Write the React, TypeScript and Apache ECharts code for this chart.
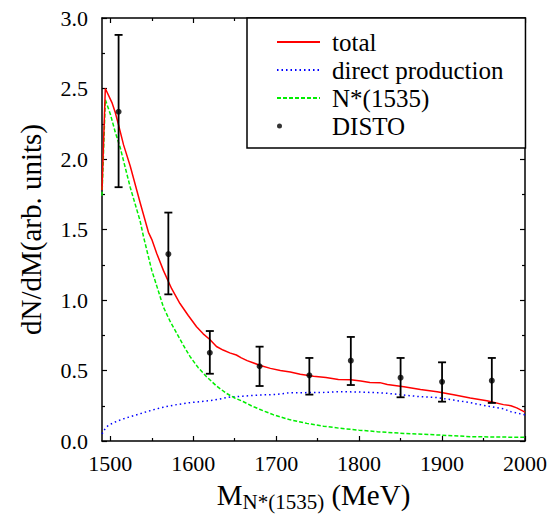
import React, { useEffect, useRef } from "react";
import * as echarts from "echarts";

// ---- data ----
const TOTAL_X = [1490, 1494, 1502, 1506, 1510, 1516, 1524, 1536, 1546, 1550, 1556, 1564, 1574, 1584, 1594, 1604, 1612, 1620, 1628, 1636, 1644, 1652, 1658, 1665, 1672, 1681, 1693, 1705, 1717, 1729, 1745, 1760, 1775, 1790, 1802, 1813, 1825, 1834, 1854, 1874, 1894, 1914, 1934, 1954, 1974, 1983, 1990, 2000];
const TOTAL_Y = [1.78, 2.5, 2.4, 2.33, 2.24, 2.1, 1.95, 1.69, 1.48, 1.43, 1.33, 1.21, 1.08, 0.975, 0.89, 0.81, 0.76, 0.72, 0.67, 0.645, 0.625, 0.61, 0.59, 0.57, 0.555, 0.535, 0.515, 0.5, 0.49, 0.473, 0.46, 0.45, 0.437, 0.435, 0.425, 0.415, 0.414, 0.4, 0.385, 0.365, 0.35, 0.328, 0.305, 0.285, 0.258, 0.25, 0.235, 0.205];

const DIRECT_X = [1490, 1494, 1498, 1506, 1514, 1524, 1534, 1544, 1554, 1564, 1580, 1596, 1610, 1625, 1645, 1660, 1680, 1700, 1717, 1735, 1760, 1778, 1800, 1822, 1834, 1854, 1874, 1894, 1914, 1934, 1954, 1974, 1983, 2000];
const DIRECT_Y = [0.05, 0.09, 0.113, 0.135, 0.154, 0.172, 0.19, 0.208, 0.225, 0.24, 0.258, 0.272, 0.28, 0.29, 0.313, 0.318, 0.326, 0.33, 0.343, 0.343, 0.345, 0.35, 0.347, 0.343, 0.338, 0.326, 0.314, 0.308, 0.29, 0.272, 0.248, 0.228, 0.208, 0.185];

const NSTAR_X = [1490, 1494, 1500, 1506, 1512, 1518, 1524, 1530, 1536, 1540, 1545, 1550, 1556, 1564, 1572, 1580, 1588, 1596, 1606, 1616, 1628, 1640, 1650, 1660, 1670, 1680, 1697, 1717, 1737, 1757, 1777, 1800, 1822, 1854, 1894, 1934, 1970, 2000];
const NSTAR_Y = [1.74, 2.42, 2.32, 2.19, 2.08, 1.94, 1.8, 1.68, 1.56, 1.45, 1.33, 1.21, 1.1, 0.95, 0.85, 0.765, 0.68, 0.6, 0.52, 0.456, 0.39, 0.338, 0.305, 0.28, 0.25, 0.225, 0.185, 0.15, 0.125, 0.105, 0.09, 0.077, 0.066, 0.054, 0.043, 0.031, 0.028, 0.026];

const DISTO_X = [1510, 1570, 1620, 1680, 1740, 1790, 1850, 1900, 1960];
const DISTO_Y = [2.335, 1.326, 0.626, 0.53, 0.466, 0.57, 0.449, 0.42, 0.428];
const DISTO_LO = [1.8, 1.04, 0.477, 0.39, 0.329, 0.397, 0.31, 0.279, 0.27];
const DISTO_HI = [2.88, 1.62, 0.78, 0.669, 0.589, 0.738, 0.589, 0.558, 0.589];

const X_MAJOR = [1500, 1600, 1700, 1800, 1900, 2000];
const X_MINOR = [1550, 1650, 1750, 1850, 1950];

const SERIES_NAMES = ["total", "direct production", "N*(1535)", "DISTO"];

const FONT = "Liberation Serif";

const zip = (xs: number[], ys: number[]) => xs.map((x, i) => [x, ys[i]]);

export default function App() {
  const ref = useRef<HTMLDivElement>(null);

  useEffect(() => {
    if (!ref.current) return;
    const chart = echarts.init(ref.current, null, { renderer: "svg" });

    const axisLine = { show: true, onZero: false, lineStyle: { color: "#000", width: 1.5 } };
    const tickStyle = { color: "#000", width: 1.2 };
    const X_MIN = 1490;
    const X_MAX = 2000;

    const xMajorBase = (position: "top" | "bottom", showLabel: boolean) => ({
      type: "value",
      position,
      min: X_MIN,
      max: X_MAX,
      axisLine,
      splitLine: { show: false },
      axisTick: { show: true, inside: true, length: 5, customValues: X_MAJOR, lineStyle: tickStyle },
      axisLabel: {
        show: showLabel,
        customValues: X_MAJOR,
        margin: 11,
        color: "#000",
        fontFamily: FONT,
        fontSize: 22,
        formatter: (v: number) => String(v),
      },
    });
    const xMinorBase = (position: "top" | "bottom") => ({
      type: "value",
      position,
      min: X_MIN,
      max: X_MAX,
      axisLine: { show: false, onZero: false },
      splitLine: { show: false },
      axisTick: { show: true, inside: true, length: 3, customValues: X_MINOR, lineStyle: tickStyle },
      axisLabel: { show: false },
    });

    const yBase = (position: "left" | "right", showLabel: boolean) => ({
      type: "value",
      position,
      min: 0,
      max: 3,
      interval: 0.5,
      axisLine,
      splitLine: { show: false },
      axisTick: { show: true, inside: true, length: 5, lineStyle: tickStyle },
      minorTick: { show: true, splitNumber: 2, length: 3, lineStyle: tickStyle },
      minorSplitLine: { show: false },
      axisLabel: {
        show: showLabel,
        margin: 14,
        color: "#000",
        fontFamily: FONT,
        fontSize: 22,
        formatter: (v: number) => v.toFixed(1),
      },
    });

    const hiddenSymbol = { color: "rgba(0,0,0,0)", borderColor: "rgba(0,0,0,0)", borderWidth: 0, opacity: 0 };

    const option: any = {
      animation: false,
      backgroundColor: "#fff",
      textStyle: { fontFamily: FONT },
      grid: { left: 102, right: 25, top: 18, bottom: 77, containLabel: false, outerBoundsMode: "none" },
      legend: {
        left: 247,
        top: 18,
        orient: "vertical",
        data: [
          { name: SERIES_NAMES[0], itemStyle: hiddenSymbol },
          { name: SERIES_NAMES[1], itemStyle: hiddenSymbol },
          { name: SERIES_NAMES[2], itemStyle: hiddenSymbol },
          {
            name: SERIES_NAMES[3],
            icon: "path://M0,2.5a2.5,2.5 0 1,0 5,0a2.5,2.5 0 1,0 -5,0Z M42.95,2.5L43,2.5L43,2.55Z",
          },
        ],
        backgroundColor: "#fff",
        borderColor: "#000",
        borderWidth: 1.5,
        borderRadius: 0,
        padding: [10, 22, 8, 29],
        itemGap: 0,
        itemWidth: 43,
        itemHeight: 5,
        textStyle: {
          fontFamily: FONT,
          fontSize: 25,
          color: "#000",
          lineHeight: 28,
          padding: [0, 0, 0, 7],
        },
      },
      xAxis: [
        {
          ...xMajorBase("bottom", true),
          name: "{m|M}{s|N*(1535)}{m| (MeV)}",
          nameLocation: "middle",
          nameGap: 37,
          nameTextStyle: {
            color: "#000",
            fontFamily: FONT,
            fontSize: 29,
            rich: {
              m: { fontFamily: FONT, fontSize: 29, color: "#000" },
              s: { fontFamily: FONT, fontSize: 21, color: "#000", padding: [13, 0, 0, 0] },
            },
          },
        },
        xMinorBase("bottom"),
        xMajorBase("top", false),
        xMinorBase("top"),
      ],
      yAxis: [
        {
          ...yBase("left", true),
          name: "dN/dM(arb. units)",
          nameLocation: "middle",
          nameGap: 57,
          nameTextStyle: { color: "#000", fontFamily: FONT, fontSize: 29 },
        },
        yBase("right", false),
      ],
      series: [
        {
          name: SERIES_NAMES[0],
          type: "line",
          xAxisIndex: 0,
          yAxisIndex: 0,
          data: zip(TOTAL_X, TOTAL_Y),
          showSymbol: false,
          symbol: "none",
          color: "#ff0000",
          lineStyle: { color: "#ff0000", width: 1.5, type: "solid" },
          z: 3,
        },
        {
          name: SERIES_NAMES[1],
          type: "line",
          xAxisIndex: 0,
          yAxisIndex: 0,
          data: zip(DIRECT_X, DIRECT_Y),
          showSymbol: false,
          symbol: "none",
          color: "#0000ff",
          lineStyle: { color: "#0000ff", width: 1.5, type: [1.5, 3] },
          z: 2,
        },
        {
          name: SERIES_NAMES[2],
          type: "line",
          xAxisIndex: 0,
          yAxisIndex: 0,
          data: zip(NSTAR_X, NSTAR_Y),
          showSymbol: false,
          symbol: "none",
          color: "#00ee00",
          lineStyle: { color: "#00ee00", width: 1.5, type: [4, 2] },
          z: 2,
        },
        {
          name: SERIES_NAMES[3],
          type: "scatter",
          xAxisIndex: 0,
          yAxisIndex: 0,
          data: zip(DISTO_X, DISTO_Y),
          symbol: "circle",
          symbolSize: 6,
          color: "#000",
          itemStyle: { color: "#000" },
          z: 5,
        },
        {
          name: SERIES_NAMES[3],
          type: "custom",
          xAxisIndex: 0,
          yAxisIndex: 0,
          data: DISTO_X.map((x, i) => [x, DISTO_LO[i], DISTO_HI[i]]),
          renderItem: (_params: any, api: any) => {
            const x = api.value(0);
            const top = api.coord([x, api.value(2)]);
            const bot = api.coord([x, api.value(1)]);
            const cap = 4;
            const style = { stroke: "#000", lineWidth: 1.8 };
            return {
              type: "group",
              children: [
                { type: "line", shape: { x1: top[0], y1: top[1], x2: bot[0], y2: bot[1] }, style },
                { type: "line", shape: { x1: top[0] - cap, y1: top[1], x2: top[0] + cap, y2: top[1] }, style },
                { type: "line", shape: { x1: bot[0] - cap, y1: bot[1], x2: bot[0] + cap, y2: bot[1] }, style },
              ],
            };
          },
          color: "#000",
          z: 4,
        },
      ],
    };

    chart.setOption(option);
    return () => chart.dispose();
  }, []);

  return (
    <div
      ref={ref}
      style={{ position: "absolute", left: 0, top: 0, width: 550, height: 518, background: "#fff" }}
    />
  );
}
